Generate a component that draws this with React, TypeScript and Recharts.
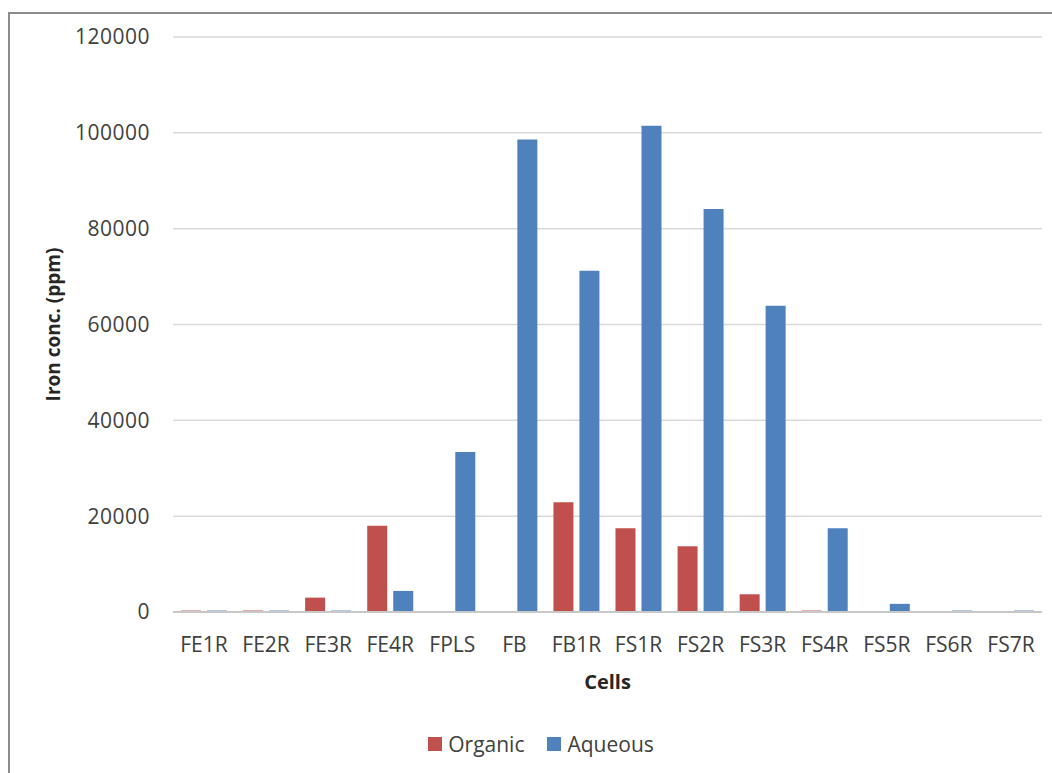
import React from 'react';
import { BarChart, Bar, XAxis, YAxis, CartesianGrid, Label } from 'recharts';

const categories = ['FE1R', 'FE2R', 'FE3R', 'FE4R', 'FPLS', 'FB', 'FB1R', 'FS1R', 'FS2R', 'FS3R', 'FS4R', 'FS5R', 'FS6R', 'FS7R'];
const organic = [300, 300, 3000, 18000, 0, 0, 22900, 17500, 13700, 3700, 300, 0, 0, 0];
const aqueous = [300, 300, 300, 4400, 33400, 98600, 71200, 101500, 84100, 63900, 17500, 1700, 300, 300];
const yTicks = [0, 20000, 40000, 60000, 80000, 100000, 120000];
const seriesNames = ['Organic', 'Aqueous'];
const seriesColors = ['#C0504D', '#4F81BD'];

const data = categories.map((c, i) => ({ name: c, Organic: organic[i], Aqueous: aqueous[i] }));

const FONT = '"Open Sans", sans-serif';

export default function App() {
  return (
    <div style={{ position: 'fixed', left: 0, top: 0, width: 1052, height: 773, overflow: 'hidden', background: '#fff' }}>
      <div style={{ position: 'absolute', left: 8, top: 12, width: 1200, height: 900, border: '2px solid #8c8c8c', boxSizing: 'border-box' }} />
      <div style={{ position: 'absolute', left: 0, top: 0 }}>
        <BarChart
          width={1052}
          height={773}
          data={data}
          margin={{ top: 37, right: 10, left: 0, bottom: 131 }}
          barSize={20}
          barGap={6}
        >
          <CartesianGrid vertical={false} stroke="#D9D9D9" strokeWidth={1.5} />
          <XAxis
            dataKey="name"
            height={30}
            tickLine={false}
            tickSize={0}
            tickMargin={25}
            axisLine={{ stroke: '#C8C8C8', strokeWidth: 2 }}
            tick={{ fill: '#404040', fontSize: 21, fontFamily: FONT }}
            interval={0}
          >
            <Label
              content={(props: any) => {
                const vb = props.viewBox;
                return (
                  <text x={vb.x + vb.width / 2} y={681} textAnchor="middle" dominantBaseline="central" fill="#262626" fontSize={20} fontWeight="bold" fontFamily={FONT}>
                    Cells
                  </text>
                );
              }}
            />
          </XAxis>
          <YAxis
            width={173}
            domain={[0, 120000]}
            ticks={yTicks}
            tickLine={false}
            tickSize={0}
            tickMargin={23}
            axisLine={false}
            tick={{ fill: '#404040', fontSize: 21, fontFamily: FONT, letterSpacing: 0.5 }}
          >
            <Label
              content={(props: any) => {
                const vb = props.viewBox;
                const cx = 53;
                const cy = vb.y + vb.height / 2;
                return (
                  <text x={cx} y={cy} transform={`rotate(-90, ${cx}, ${cy})`} textAnchor="middle" dominantBaseline="central" fill="#262626" fontSize={19} fontWeight="bold" fontFamily={FONT}>
                    Iron conc. (ppm)
                  </text>
                );
              }}
            />
          </YAxis>
          <Bar dataKey="Organic" fill={seriesColors[0]} isAnimationActive={false} />
          <Bar dataKey="Aqueous" fill={seriesColors[1]} isAnimationActive={false} />
        </BarChart>
      </div>
      <div style={{ position: 'absolute', left: 0, top: 730, width: 1082, display: 'flex', justifyContent: 'center', fontFamily: FONT, fontSize: 21, color: '#404040' }}>
        {seriesNames.map((n, i) => (
          <div key={n} style={{ display: 'flex', alignItems: 'center', marginLeft: i === 0 ? 0 : 23 }}>
            <span style={{ display: 'inline-block', width: 14, height: 14, background: seriesColors[i], marginRight: 6 }} />
            <span>{n}</span>
          </div>
        ))}
      </div>
    </div>
  );
}
